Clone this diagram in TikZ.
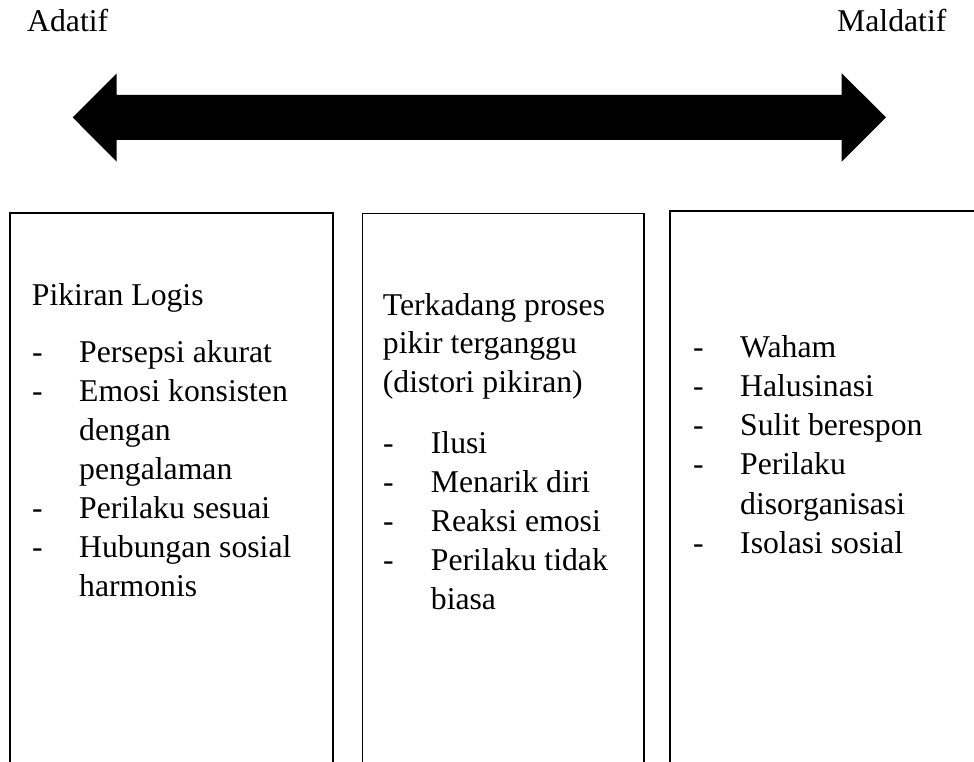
\documentclass[tikz,border=0pt]{standalone}
\usepackage{fontspec}
\setmainfont{Liberation Serif}
\begin{document}
\begin{tikzpicture}[x=1pt,y=-1pt,
  txt/.style={anchor=base west, inner sep=0pt, font=\fontsize{31.7}{39.4}\selectfont},
  thickbox/.style={draw=black, line width=2.4pt},
  thinbox/.style={draw=black, line width=1.2pt}]
\clip (0,0) rectangle (974,762);
\fill[white] (0,0) rectangle (974,762);
% header labels
\node[txt] (adatif) at (27,32) {Adatif};
\node[txt] (maldatif) at (837,32) {Maldatif};
% double arrow
\fill[black] (72.7,117.4) -- (116.7,73.3) -- (116.7,95) -- (841.7,95) -- (841.7,73.3)
  -- (886,117.4) -- (841.7,161.7) -- (841.7,140) -- (116.7,140) -- (116.7,161.7) -- cycle;
% boxes
\draw[thickbox] (10,213.3) rectangle (333,790);
\draw[thinbox] (362.7,213.3) rectangle (644,790);
\draw[thickbox] (670,211) rectangle (1000,790);
% left box
\node[txt] (l0) at (31.7,305) {Pikiran Logis};
\node[txt] (ld1) at (32,362) {-};
\node[txt] (l1) at (79,362) {Persepsi akurat};
\node[txt] (ld2) at (32,401) {-};
\node[txt] (l2) at (79,401) {Emosi konsisten};
\node[txt] (l2b) at (79,440) {dengan};
\node[txt] (l2c) at (79,479) {pengalaman};
\node[txt] (ld3) at (32,518) {-};
\node[txt] (l3) at (79,518) {Perilaku sesuai};
\node[txt] (ld4) at (32,557) {-};
\node[txt] (l4) at (79,557) {Hubungan sosial};
\node[txt] (l4b) at (79,596) {harmonis};
% middle box
\node[txt] (m0) at (382.7,315) {Terkadang proses};
\node[txt] (m0b) at (382.7,353.5) {pikir terganggu};
\node[txt] (m0c) at (382.7,392) {(distori pikiran)};
\node[txt] (md1) at (383,453) {-};
\node[txt] (m1) at (430.7,453) {Ilusi};
\node[txt] (md2) at (383,492) {-};
\node[txt] (m2) at (430.7,492) {Menarik diri};
\node[txt] (md3) at (383,531) {-};
\node[txt] (m3) at (430.7,531) {Reaksi emosi};
\node[txt] (md4) at (383,570) {-};
\node[txt] (m4) at (430.7,570) {Perilaku tidak};
\node[txt] (m4b) at (430.7,609) {biasa};
% right box
\node[txt] (rd1) at (693,357) {-};
\node[txt] (r1) at (740,357) {Waham};
\node[txt] (rd2) at (693,396.3) {-};
\node[txt] (r2) at (740,396.3) {Halusinasi};
\node[txt] (rd3) at (693,435.6) {-};
\node[txt] (r3) at (740,435.6) {Sulit berespon};
\node[txt] (rd4) at (693,474.9) {-};
\node[txt] (r4) at (740,474.9) {Perilaku};
\node[txt] (r4b) at (740,514.2) {disorganisasi};
\node[txt] (rd5) at (693,553.5) {-};
\node[txt] (r5) at (740,553.5) {Isolasi sosial};
\end{tikzpicture}
\end{document}
